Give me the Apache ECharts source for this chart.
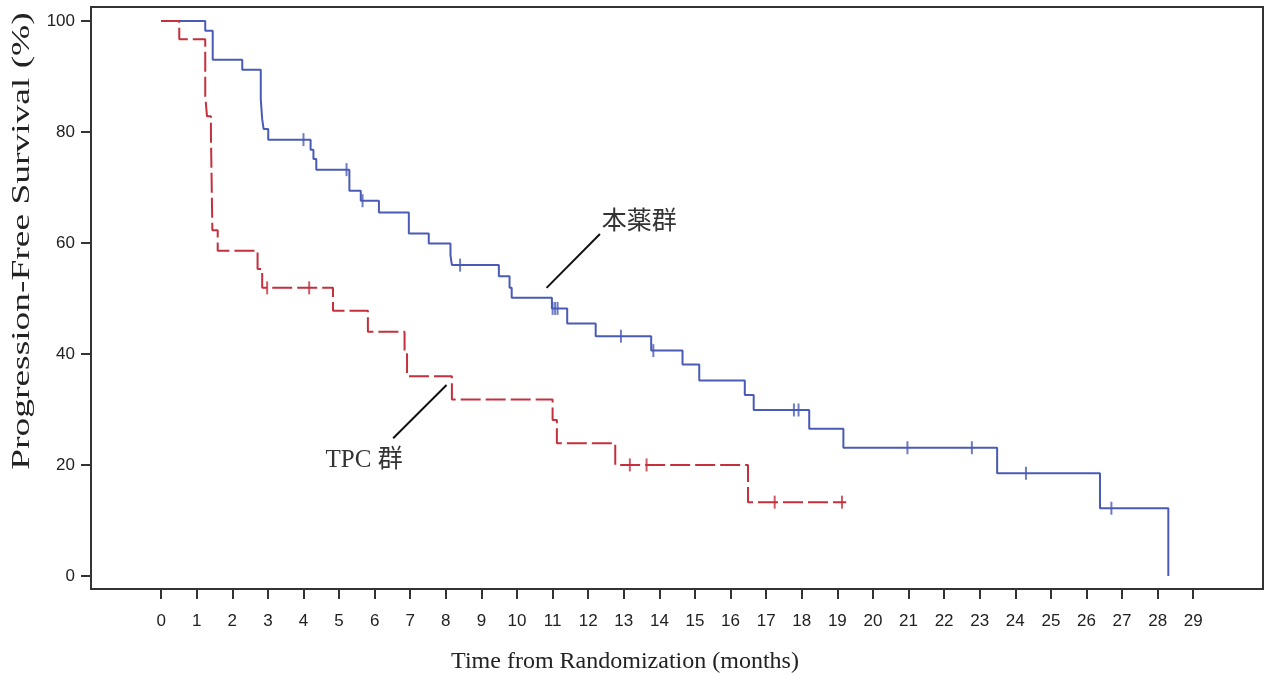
<!DOCTYPE html>
<html>
<head>
<meta charset="utf-8">
<script src="https://cdn.jsdelivr.net/npm/echarts@6/dist/echarts.min.js"></script>
<style>
	html, body { margin: 0; padding: 0; background: #fff; }
	#main { width: 1266px; height: 675px; }
</style>
</head>
<body>
<div id="main"></div>
<script>
// 本薬群 (blue, solid)
var blueTimes = [0, 1.24, 1.45, 2.28, 2.80, 2.84, 2.88, 3.01, 4.20, 4.28, 4.36, 5.29, 5.61, 6.12, 6.96, 7.52, 8.13, 8.17, 9.49, 9.79, 9.85, 10.98, 11.41, 12.21, 13.77, 14.65, 15.12, 16.40, 16.65, 18.21, 19.17, 23.49, 26.38, 28.30];
var blueSurv = [100, 98.2, 93.0, 91.2, 85.9, 82.3, 80.5, 78.6, 76.8, 75.1, 73.2, 69.4, 67.6, 65.5, 61.7, 59.9, 57.8, 56.0, 54.0, 51.9, 50.1, 48.2, 45.5, 43.2, 40.6, 38.1, 35.2, 32.6, 29.9, 26.5, 23.1, 18.5, 12.2, 0];
var blueCensor = [4.0, 5.21, 5.66, 8.40, 11.0, 11.07, 11.14, 12.92, 13.83, 17.78, 17.91, 20.97, 22.78, 24.30, 26.70];

// TPC 群 (red, dashed)
var redTimes = [0, 0.51, 1.24, 1.29, 1.40, 1.44, 1.59, 2.71, 2.84, 4.83, 5.81, 6.84, 6.91, 8.17, 11.0, 11.12, 12.76, 16.49, 19.25];
var redSurv = [100, 96.7, 86.4, 82.8, 79.5, 62.3, 58.6, 55.3, 51.9, 47.8, 44.0, 40.0, 36.0, 31.8, 28.1, 23.9, 20.0, 13.3, 13.3];
var redCensor = [2.98, 4.16, 13.17, 13.64, 17.24, 19.13];

var xTicks = [0, 1, 2, 3, 4, 5, 6, 7, 8, 9, 10, 11, 12, 13, 14, 15, 16, 17, 18, 19, 20, 21, 22, 23, 24, 25, 26, 27, 28, 29];
var yTicks = [0, 20, 40, 60, 80, 100];

var BLUE = '#4a5bb5';
var RED = '#c4303c';

function pairs(ts, ss) {
	return ts.map(function(t, i) { return [t, ss[i]]; });
}
// survival value at time t from the step curve
function survAt(ts, ss, t) {
	var v = ss[0];
	for (var i = 0; i < ts.length; i++) {
		if (ts[i] <= t) v = ss[i];
	}
	return v;
}
function censorPts(cs, ts, ss) {
	return cs.map(function(t) { return [t, survAt(ts, ss, t)]; });
}

var chart = echarts.init(document.getElementById('main'));
var tickFont = { color: '#222', fontSize: 17, fontFamily: 'Liberation Sans' };

chart.setOption({
	animation: false,
	grid: {
		left: 91, right: 3, top: 7, bottom: 86,
		outerBoundsMode: 'none', containLabel: false,
		show: true, borderColor: '#333', borderWidth: 2
	},
	xAxis: {
		type: 'value', min: -1.97, max: 30.96,
		splitLine: { show: false },
		axisLine: { show: false, onZero: false },
		axisTick: { show: true, length: 10, customValues: xTicks, lineStyle: { color: '#333', width: 2 } },
		axisLabel: Object.assign({ customValues: xTicks, margin: 24 }, tickFont)
	},
	yAxis: {
		type: 'value', min: -2.35, max: 102.5,
		splitLine: { show: false },
		axisLine: { show: false, onZero: false },
		axisTick: { show: true, length: 10, customValues: yTicks, lineStyle: { color: '#333', width: 2 } },
		axisLabel: Object.assign({ customValues: yTicks, margin: 16 }, tickFont)
	},
	series: [
		{
			name: '本薬群', type: 'line', step: 'end', showSymbol: false,
			data: pairs(blueTimes, blueSurv),
			lineStyle: { color: BLUE, width: 2 }, z: 2
		},
		{
			name: 'TPC 群', type: 'line', step: 'end', showSymbol: false,
			data: pairs(redTimes, redSurv),
			lineStyle: { color: RED, width: 2, type: [20, 5] }, z: 3
		},
		{
			type: 'scatter', data: censorPts(blueCensor, blueTimes, blueSurv),
			symbol: 'rect', symbolSize: [2, 13], itemStyle: { color: BLUE }, z: 4
		},
		{
			type: 'scatter', data: censorPts(redCensor, redTimes, redSurv),
			symbol: 'rect', symbolSize: [2, 13], itemStyle: { color: RED }, z: 4
		}
	]
});

// annotation leaders and labels in data coordinates
var annoLines = [
	[[10.83, 51.9], [12.33, 61.6]],
	[[6.52, 24.8], [8.02, 34.4]]
];
var annoLabels = [
	{ text: '本薬群', at: [12.38, 63.6] },
	{ text: 'TPC 群', at: [4.62, 20.9] }
];
function px(p) { return chart.convertToPixel({ gridIndex: 0 }, p); }

var elements = [];
annoLines.forEach(function(l) {
	var a = px(l[0]), b = px(l[1]);
	elements.push({
		type: 'line',
		shape: { x1: a[0], y1: a[1], x2: b[0], y2: b[1] },
		style: { stroke: '#111', lineWidth: 2 }
	});
});
annoLabels.forEach(function(l) {
	var p = px(l.at);
	elements.push({
		type: 'text', x: p[0], y: p[1],
		style: {
			text: l.text, fill: '#333', fontSize: 25,
			fontFamily: 'Liberation Serif, "Noto Sans CJK JP"',
			verticalAlign: 'middle', align: 'left'
		}
	});
});
// axis titles
elements.push({
	type: 'text', x: 22, y: 241, rotation: Math.PI / 2, scaleX: 1.44,
	style: {
		text: 'Progression-Free Survival (%)', fill: '#222', fontSize: 26,
		fontFamily: 'Liberation Serif', align: 'center', verticalAlign: 'middle'
	}
});
elements.push({
	type: 'text', x: 625, y: 662,
	style: {
		text: 'Time from Randomization (months)', fill: '#222', fontSize: 24,
		fontFamily: 'Liberation Serif', align: 'center', verticalAlign: 'middle'
	}
});
chart.setOption({ graphic: { elements: elements } });
</script>
</body>
</html>
